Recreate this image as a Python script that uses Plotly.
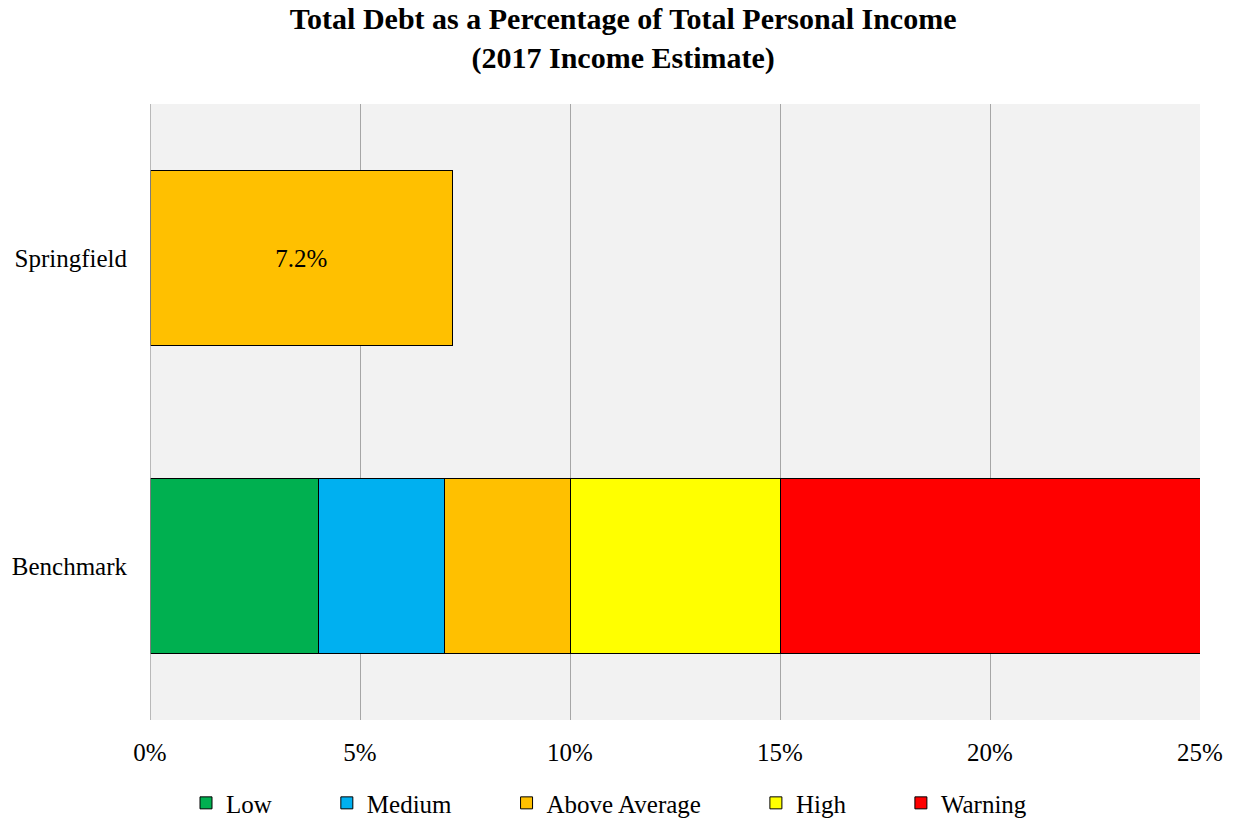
import plotly.graph_objects as go

categories = ["Benchmark", "Springfield"]
bands = ["Low", "Medium", "Above Average", "High", "Warning"]
band_values = [4, 3, 3, 5, 10]
band_colors = ["#00B050", "#00B0F0", "#FFC000", "#FFFF00", "#FF0000"]
springfield_value = 7.2
springfield_color = "#FFC000"

FONT = "Liberation Serif, Times New Roman, serif"
PAD = "\u00a0" * 8

fig = go.Figure()
for name, val, col in zip(bands, band_values, band_colors):
    fig.add_trace(go.Bar(
        y=["Benchmark"], x=[val], name=name + (PAD if name != bands[-1] else ""),
        orientation="h",
        marker=dict(color=col, line=dict(color="black", width=1)),
        width=0.57, hovertemplate=name + ": %{x}%<extra></extra>",
    ))
fig.add_trace(go.Bar(
    y=["Springfield"], x=[springfield_value], orientation="h", showlegend=False,
    marker=dict(color=springfield_color, line=dict(color="black", width=1)),
    width=0.57, text=[f"{springfield_value:.1f}%"], textposition="inside",
    insidetextanchor="middle", textfont=dict(size=25, color="black", family=FONT),
    name="Springfield",
))

fig.update_layout(
    barmode="stack",
    width=1234, height=822,
    margin=dict(l=150, r=34, t=104, b=102),
    paper_bgcolor="white", plot_bgcolor="#F2F2F2",
    font=dict(family=FONT, size=25, color="black"),
    title=dict(text="<b>Total Debt as a Percentage of Total Personal Income<br>(2017 Income Estimate)</b>",
               x=0.505, xanchor="center", y=0.965, yanchor="top",
               font=dict(size=30, family=FONT)),
    xaxis=dict(range=[0, 25], tickvals=[0, 5, 10, 15, 20, 25],
               ticktext=["0%", "5%", "10%", "15%", "20%", "25%"],
               showgrid=True, gridcolor="#A6A6A6", gridwidth=1,
               zeroline=False, showline=False, ticks="outside", ticklen=10,
               tickcolor="rgba(0,0,0,0)",
               tickfont=dict(size=25), automargin=False),
    yaxis=dict(categoryorder="array", categoryarray=categories, range=[-0.5, 1.5],
               showgrid=False, zeroline=False, showline=False, ticks="outside",
               ticklen=17, tickcolor="rgba(0,0,0,0)",
               tickfont=dict(size=25), automargin=False),
    legend=dict(orientation="h", x=0.0343, xanchor="left",
                yref="container", y=0.023, yanchor="middle",
                font=dict(size=25), itemwidth=30, traceorder="normal",
                bgcolor="rgba(0,0,0,0)"),
    bargap=0.43,
)
fig.add_shape(type="line", xref="x", yref="paper", x0=0, x1=0, y0=0, y1=1,
              line=dict(color="#A6A6A6", width=1.5))

fig.write_html("out.html")
